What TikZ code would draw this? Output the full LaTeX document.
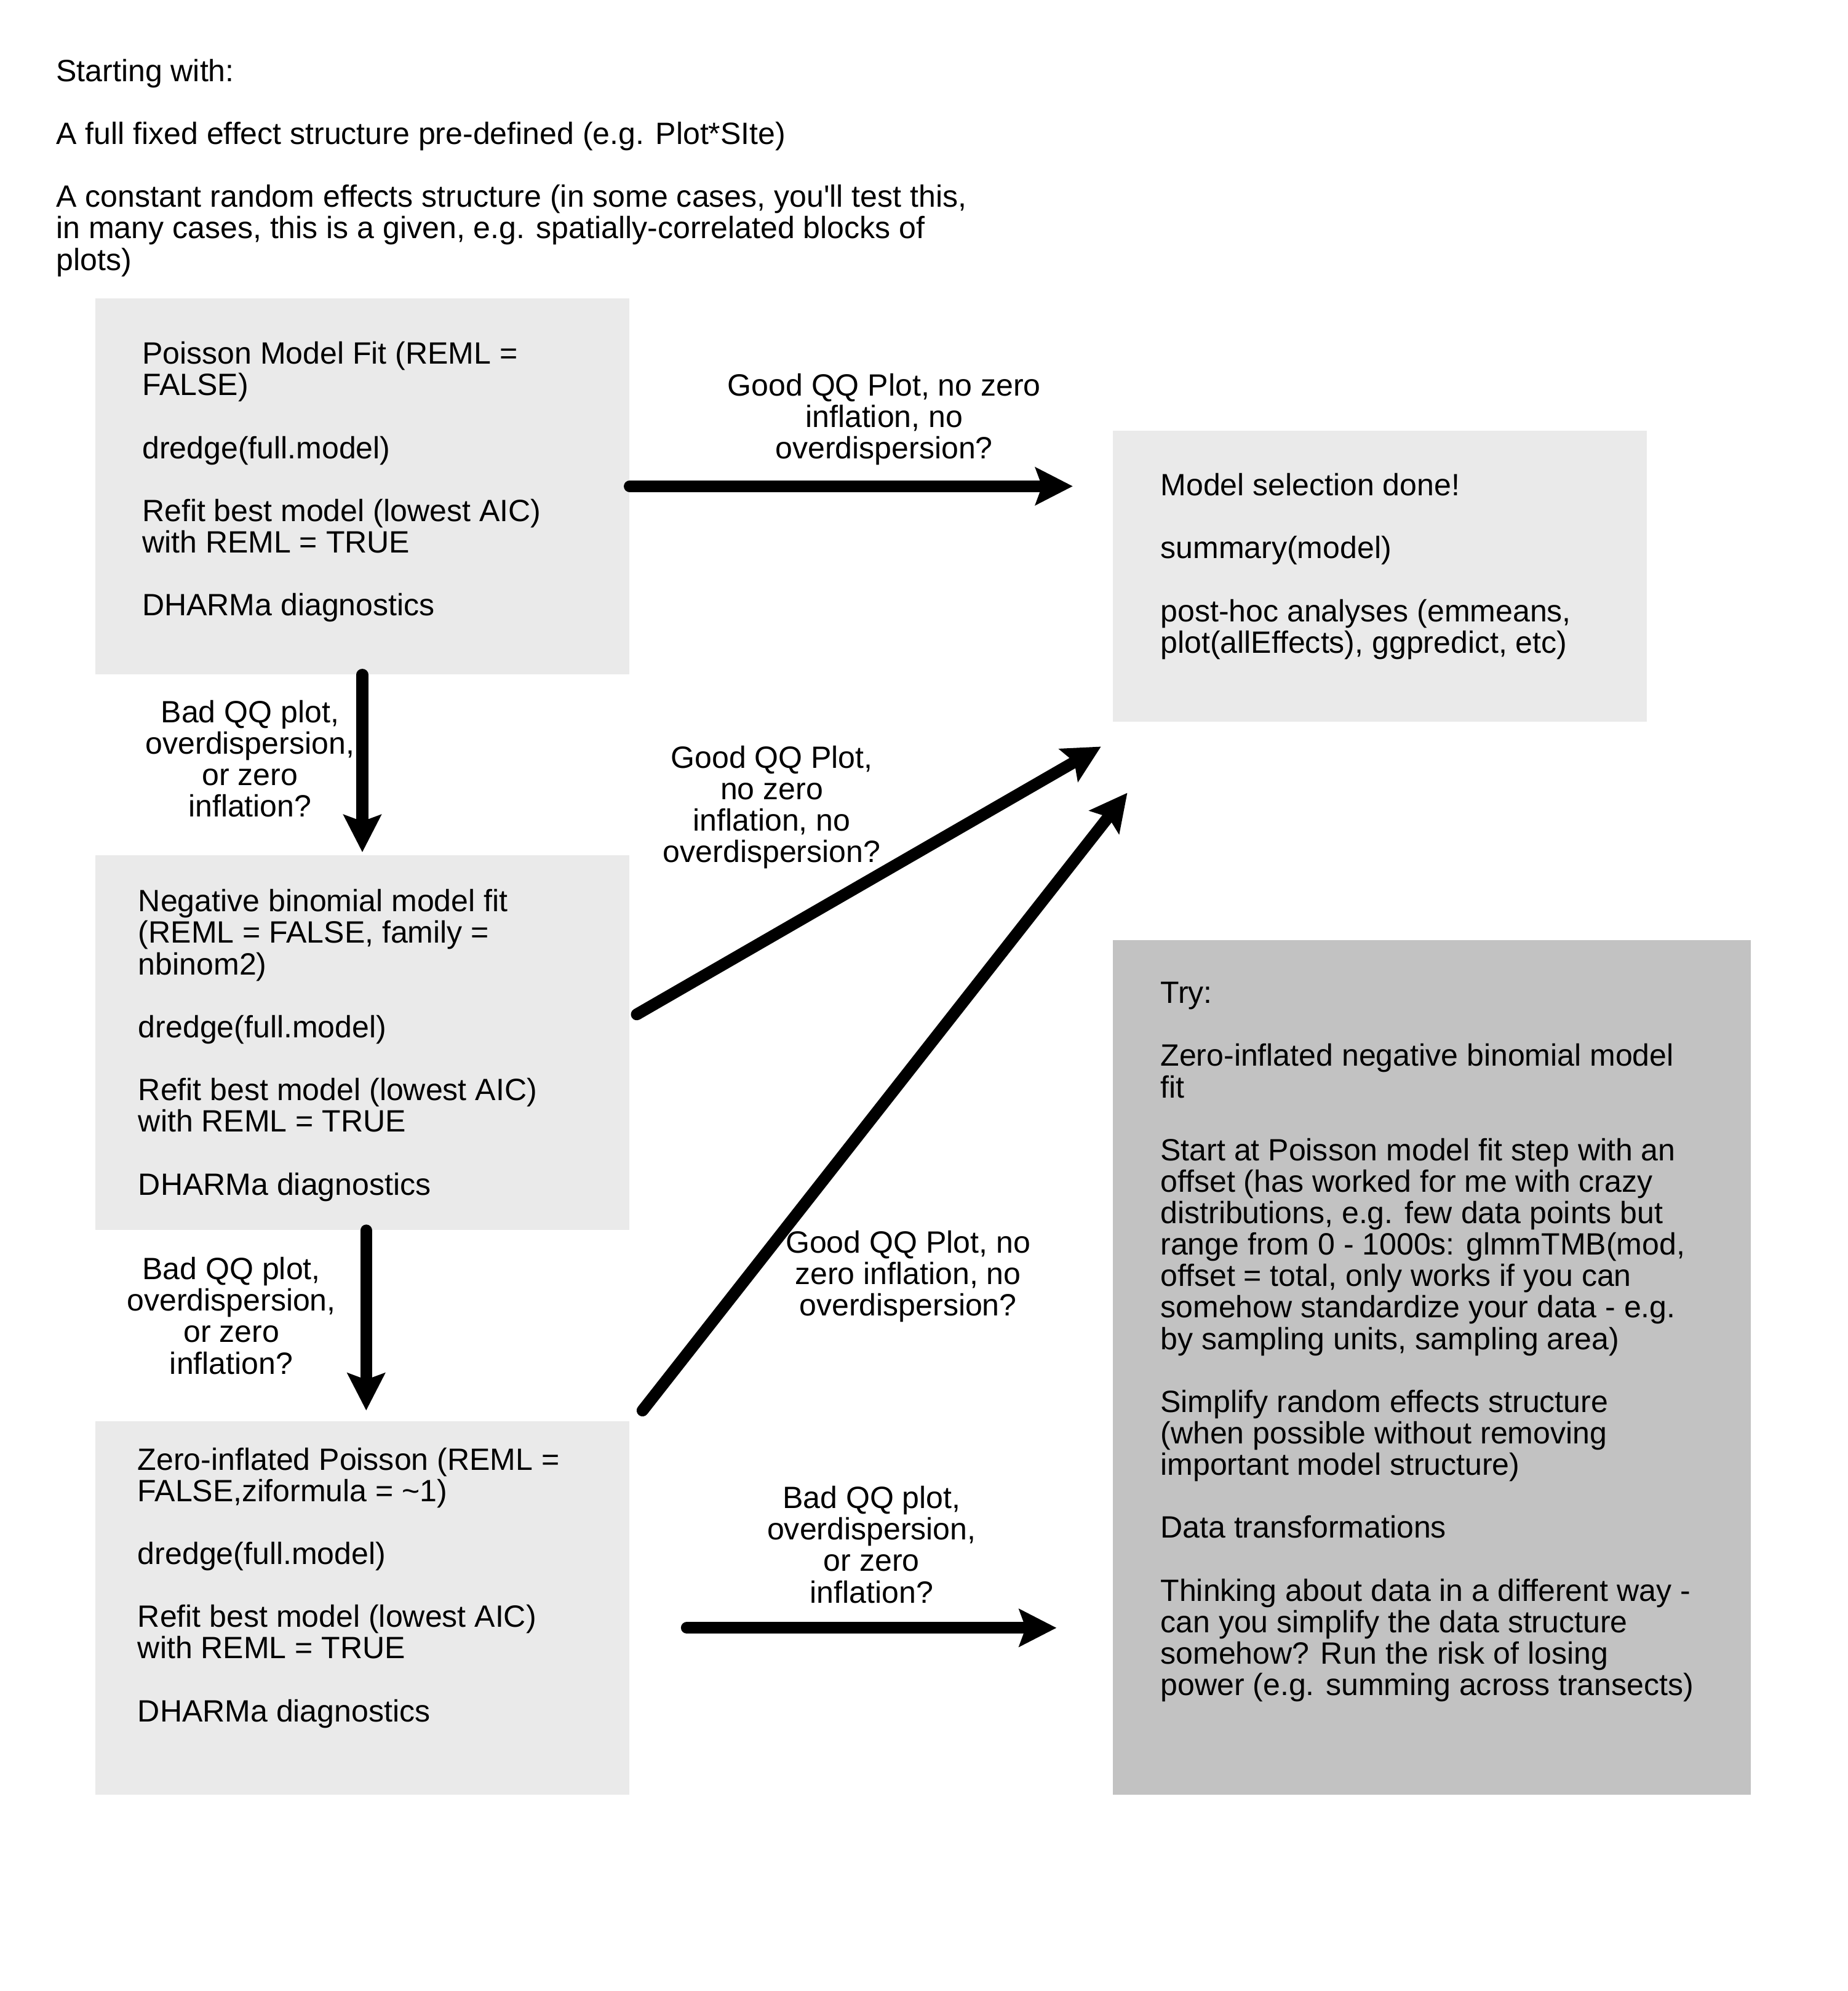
\documentclass[tikz,border=0pt]{standalone}
\usepackage{fontspec}
\setmainfont{Liberation Sans}
\usetikzlibrary{arrows.meta,calc,positioning}
\definecolor{boxgrey}{HTML}{EAEAEA}
\definecolor{trygrey}{HTML}{C2C2C2}

\begin{document}
\begin{tikzpicture}[x=0.2mm, y=-0.2mm,
  >={Stealth[length=5.8mm,width=5.8mm,inset=1mm]},
  flow/.style={->, line width=1.84mm, line cap=round},
  box/.style={fill=boxgrey, draw=none, inner sep=0pt, anchor=north west,
    minimum width=83.2mm},
  txt/.style={font=\fontsize{13.65pt}{13.95pt}\selectfont, align=left,
    inner sep=0pt, anchor=base west},
  lbl/.style={font=\fontsize{13.65pt}{13.95pt}\selectfont, align=center,
    inner sep=0pt, anchor=base}]
  \useasboundingbox (0,0) rectangle (1440,1551.3);

  % anchored at the baseline of the last line
  \node [txt] (intro) at (43.5,210.5) {Starting with:\\[\baselineskip]
    A full fixed effect structure pre-defined (e.g. Plot*SIte)\\[\baselineskip]
    A constant random effects structure (in some cases, you\textquotesingle ll test this,\\
    in many cases, this is a given, e.g. spatially-correlated blocks of\\
    plots)};

  % boxes
  \node [box, minimum height=58.6mm]  (poisson) at (74,232)  {};
  \node [box, minimum height=45.4mm]  (done)    at (867,335) {};
  \node [box, minimum height=58.4mm]  (negbin)  at (74,666)  {};
  \node [box, minimum height=58.2mm]  (zip)     at (74,1107) {};
  \node [box, fill=trygrey, minimum width=99.4mm, minimum height=133.2mm]
    (try) at (867,732) {};

  \node [txt] (poissontxt) at ($(poisson.north west)+(36.5,247.8)$)
    {Poisson Model Fit (REML =\\ FALSE)\\[\baselineskip]
     dredge(full.model)\\[\baselineskip]
     Refit best model (lowest AIC)\\ with REML = TRUE\\[\baselineskip]
     DHARMa diagnostics};
  \node [txt] (donetxt) at ($(done.north west)+(37,173.8)$)
    {Model selection done!\\[\baselineskip]
     summary(model)\\[\baselineskip]
     post-hoc analyses (emmeans,\\ plot(allEffects), ggpredict, etc)};
  \node [txt] (negbintxt) at ($(negbin.north west)+(33.5,265)$)
    {Negative binomial model fit\\ (REML = FALSE, family =\\ nbinom2)\\[\baselineskip]
     dredge(full.model)\\[\baselineskip]
     Refit best model (lowest AIC)\\ with REML = TRUE\\[\baselineskip]
     DHARMa diagnostics};
  \node [txt] (ziptxt) at ($(zip.north west)+(33,234.4)$)
    {Zero-inflated Poisson (REML =\\ FALSE,ziformula = \textasciitilde1)\\[\baselineskip]
     dredge(full.model)\\[\baselineskip]
     Refit best model (lowest AIC)\\ with REML = TRUE\\[\baselineskip]
     DHARMa diagnostics};
  \node [txt] (trytxt) at ($(try.north west)+(37,589)$)
    {Try:\\[\baselineskip]
     Zero-inflated negative binomial model\\ fit\\[\baselineskip]
     Start at Poisson model fit step with an\\
     offset (has worked for me with crazy\\
     distributions, e.g. few data points but\\
     range from 0 - 1000s: glmmTMB(mod,\\
     offset = total, only works if you can\\
     somehow standardize your data - e.g.\\
     by sampling units, sampling area)\\[\baselineskip]
     Simplify random effects structure\\
     (when possible without removing\\
     important model structure)\\[\baselineskip]
     Data transformations\\[\baselineskip]
     Thinking about data in a different way -\\
     can you simplify the data structure\\
     somehow? Run the risk of losing\\
     power (e.g. summing across transects)};

  % free ends of the arrows
  \coordinate (nbout)   at ($(negbin.east)+(5.5,-22)$);
  \coordinate (donein1) at ($(done.south west)+(-9,19)$);
  \coordinate (zipout)  at ($(zip.north east)+(10,-8)$);
  \coordinate (donein2) at ($(done.south west)+(11.5,55)$);
  \coordinate (zipout2) at ($(zip.east)+(44.5,15.5)$);

  \draw [flow, shorten >=6.2mm] (poisson.east) -- (poisson.east -| done.west);
  \draw [flow, shorten >=0.4mm] (poisson.south) -- (negbin.north);
  \draw [flow, shorten >=1.6mm] ([xshift=0.6mm]negbin.south) -- ([xshift=0.6mm]zip.north);
  \draw [flow] (nbout) -- (donein1);
  \draw [flow] (zipout) -- (donein2);
  \draw [flow, shorten >=8.74mm] (zipout2) -- (zipout2 -| try.west);

  % labels, also at the last baseline
  \node [lbl] (goodA) at (689,357.4)    {Good QQ Plot, no zero\\ inflation, no\\ overdispersion?};
  \node [lbl] (badA)  at (194.8,636.5)  {Bad QQ plot,\\ overdispersion,\\ or zero\\ inflation?};
  \node [lbl] (goodB) at (601.4,672)    {Good QQ Plot,\\ no zero\\ inflation, no\\ overdispersion?};
  \node [lbl] (badB)  at (180.3,1070.5) {Bad QQ plot,\\ overdispersion,\\ or zero\\ inflation?};
  \node [lbl] (goodC) at (707.6,1025.2) {Good QQ Plot, no\\ zero inflation, no\\ overdispersion?};
  \node [lbl] (badC)  at (679.2,1248.8) {Bad QQ plot,\\ overdispersion,\\ or zero\\ inflation?};
\end{tikzpicture}
\end{document}
